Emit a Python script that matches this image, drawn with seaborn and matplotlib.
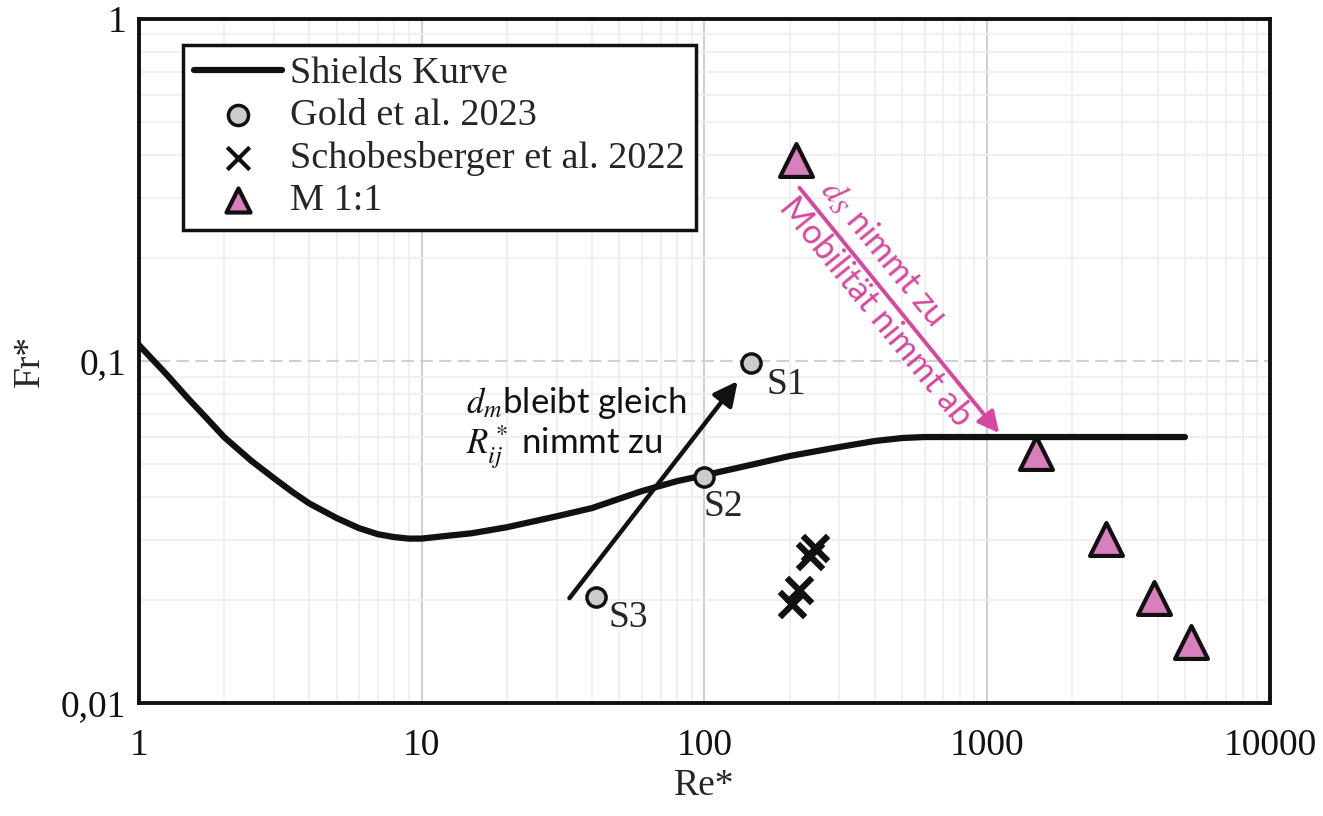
import numpy as np
import pandas as pd
import matplotlib
matplotlib.use("Agg")
import matplotlib.pyplot as plt
import matplotlib.ticker as mticker
import seaborn as sns

# Shields curve
shields_re = [1.0, 1.25, 1.5, 1.75, 2.0, 2.5, 3.0, 3.5, 4.0, 5.0, 6.0, 7.0, 8.0, 9.0, 10, 12, 15,
              20, 30, 40, 60, 80, 100, 150, 200, 300, 400, 500, 600, 5000]
shields_fr = [0.1114, 0.0916, 0.0774, 0.0676, 0.0600, 0.0511, 0.0455, 0.0414, 0.0384, 0.0348,
              0.0325, 0.0312, 0.0306, 0.0303, 0.0303, 0.0308, 0.0314, 0.0327, 0.0352, 0.0372,
              0.0417, 0.0446, 0.0464, 0.0500, 0.0528, 0.0561, 0.0584, 0.0596, 0.0600, 0.0600]

# Gold et al. 2023
gold_re = [146.6, 100.0, 41.5]
gold_fr = [0.0987, 0.046, 0.0204]
gold_names = ["S1", "S2", "S3"]

# Schobesberger et al. 2022
schob_re = [204.7, 216.6, 237.0, 246.6]
schob_fr = [0.0195, 0.0214, 0.0269, 0.0284]

# M 1:1
m11_re = [211, 1490, 2633, 3890, 5260]
m11_fr = [0.387, 0.0538, 0.0303, 0.0203, 0.01507]

pink = "#d6489e"
tri_fill = "#d97fbb"

sns.set_style("white")
plt.rcParams["font.family"] = ["Liberation Serif", "DejaVu Serif"]
plt.rcParams["mathtext.fontset"] = "stix"

fig, ax = plt.subplots(figsize=(13.23, 8.16), dpi=100)
fig.subplots_adjust(left=0.105, right=0.96, top=0.977, bottom=0.138)

ax.set_xscale("log")
ax.set_yscale("log")

df_sh = pd.DataFrame({"Re": shields_re, "Fr": shields_fr})
sns.lineplot(data=df_sh, x="Re", y="Fr", color="#111111", lw=4.5,
             label="Shields Kurve", ax=ax, solid_capstyle="round", zorder=3)

df_gold = pd.DataFrame({"Re": gold_re, "Fr": gold_fr})
sns.scatterplot(data=df_gold, x="Re", y="Fr", marker="o", s=190, color="#cccccc",
                edgecolor="#111111", linewidth=2.5, label="Gold et al. 2023", ax=ax, zorder=5)

df_sch = pd.DataFrame({"Re": schob_re, "Fr": schob_fr})
sns.scatterplot(data=df_sch, x="Re", y="Fr", marker="x", s=330, color="#111111",
                linewidth=4.5, label="Schobesberger et al. 2022", ax=ax, zorder=5)

df_m = pd.DataFrame({"Re": m11_re, "Fr": m11_fr})
sns.scatterplot(data=df_m, x="Re", y="Fr", marker="^", s=560, color=tri_fill,
                edgecolor="#111111", linewidth=3, label="M 1:1", ax=ax, zorder=5)

ax.set_xlim(1, 10000)
ax.set_ylim(0.01, 1)

# grid
ax.xaxis.grid(True, which="major", color="#d0d0d0", lw=1.5, ls="-")
ax.yaxis.grid(True, which="major", color="#d0d0d0", lw=1.5, ls=(0, (6, 3)))
ax.grid(True, which="minor", color="#eeeeee", lw=1.2)
ax.set_axisbelow(True)

ax.xaxis.set_major_locator(mticker.FixedLocator([1, 10, 100, 1000, 10000]))
ax.xaxis.set_major_formatter(mticker.FixedFormatter(["1", "10", "100", "1000", "10000"]))
ax.yaxis.set_major_locator(mticker.FixedLocator([0.01, 0.1, 1]))
ax.yaxis.set_major_formatter(mticker.FixedFormatter(["0,01", "0,1", "1"]))
ax.xaxis.set_minor_locator(mticker.LogLocator(base=10, subs=np.arange(2, 10)))
ax.yaxis.set_minor_locator(mticker.LogLocator(base=10, subs=np.arange(2, 10)))
ax.xaxis.set_minor_formatter(mticker.NullFormatter())
ax.yaxis.set_minor_formatter(mticker.NullFormatter())
ax.tick_params(which="major", direction="inout", length=14, width=2.5, colors="#111111",
               labelsize=27)
ax.tick_params(axis="x", which="major", pad=11)
ax.tick_params(axis="y", which="major", pad=2)
ax.tick_params(which="minor", direction="inout", length=11, width=2.5, colors="#111111")

for sp in ax.spines.values():
    sp.set_color("#111111")
    sp.set_linewidth(2.8)

ax.set_xlabel("Re*", fontsize=27, labelpad=4)
ax.set_ylabel("Fr*", fontsize=27, labelpad=10)

# point labels
offsets = [(11, -16), (-1, -22), (9, -15)]
for name, x, y, off in zip(gold_names, gold_re, gold_fr, offsets):
    ax.annotate(name, (x, y), xytext=off, textcoords="offset points",
                fontsize=27, ha="left", va="center", zorder=6)

# black arrow
ax.annotate("", xy=(131, 0.0874), xytext=(33.3, 0.0203),
            arrowprops=dict(arrowstyle="-|>", color="#111111", lw=3.2,
                            mutation_scale=36, shrinkA=0, shrinkB=0), zorder=4)
sans = ["Lato", "DejaVu Sans"]
ax.text(14.4, 0.0753, "$d_m$bleibt gleich", fontsize=25, family=sans,
        ha="left", va="center", color="#111111")
ax.text(14.4, 0.0561, "$R^*_{ij}$ nimmt zu", fontsize=25, family=sans,
        ha="left", va="center", color="#111111")

# pink arrow
ax.annotate("", xy=(1102, 0.0616), xytext=(216.6, 0.321),
            arrowprops=dict(arrowstyle="-|>", color=pink, lw=2.8,
                            mutation_scale=32, shrinkA=0, shrinkB=0), zorder=4)
ax.text(432, 0.2084, "$d_S$ nimmt zu", fontsize=24.5, family=sans, color=pink,
        rotation=-50.8, rotation_mode="anchor", ha="center", va="center")
ax.text(402, 0.139, "Mobilität nimmt ab", fontsize=24.5, family=sans, color=pink,
        rotation=-50.8, rotation_mode="anchor", ha="center", va="center")

leg = ax.legend(loc="upper left", bbox_to_anchor=(0.039, 0.962), fontsize=27.5,
                frameon=True, fancybox=False, edgecolor="#111111", framealpha=1,
                handlelength=2.3, handletextpad=0.2, borderpad=0.3,
                labelspacing=0.2, borderaxespad=0)
leg.get_frame().set_linewidth(2.5)
leg.set_zorder(10)
# smaller markers in the legend, as in the reference
leg.legend_handles[1].set_sizes([210])
leg.legend_handles[2].set_sizes([260])
leg.legend_handles[2].set_linewidth(3)
leg.legend_handles[3].set_sizes([300])

fig.savefig("out.png", dpi=100, facecolor="white")
